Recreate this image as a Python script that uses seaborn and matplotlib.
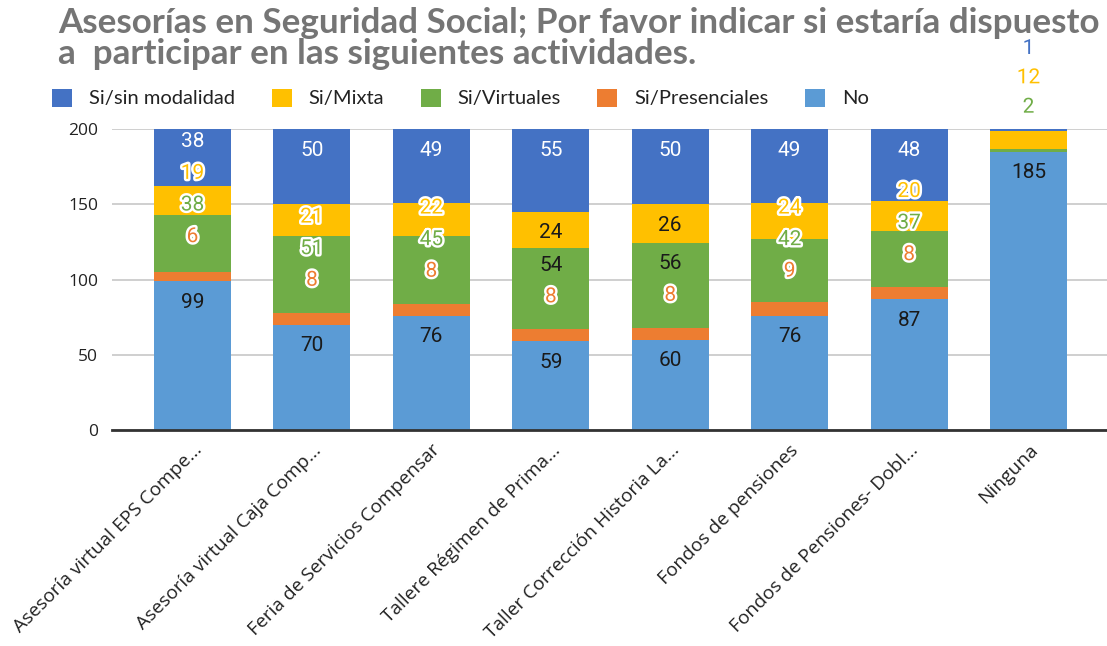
import matplotlib
matplotlib.use("Agg")
import matplotlib.pyplot as plt
import matplotlib.patheffects as pe
from matplotlib.patches import Patch
import seaborn as sns
import pandas as pd
import numpy as np

# ---------------- data ----------------
categories = [
    "Asesoría virtual EPS Compe...",
    "Asesoría virtual Caja Comp...",
    "Feria de Servicios Compensar",
    "Tallere Régimen de Prima...",
    "Taller Corrección Historia La...",
    "Fondos de pensiones",
    "Fondos de Pensiones- Dobl...",
    "Ninguna",
]
no_vals = [99, 70, 76, 59, 60, 76, 87, 185]
presenciales = [6, 8, 8, 8, 8, 9, 8, 0]
virtuales = [38, 51, 45, 54, 56, 42, 37, 2]
mixta = [19, 21, 22, 24, 26, 24, 20, 12]
sin_modalidad = [38, 50, 49, 55, 50, 49, 48, 1]

series_names = ["No", "Si/Presenciales", "Si/Virtuales", "Si/Mixta", "Si/sin modalidad"]  # bottom -> top
series_values = [no_vals, presenciales, virtuales, mixta, sin_modalidad]
legend_order = ["Si/sin modalidad", "Si/Mixta", "Si/Virtuales", "Si/Presenciales", "No"]
y_ticks = [0, 50, 100, 150, 200]

title_line1 = "Asesorías en Seguridad Social; Por favor indicar si estaría dispuesto"
title_line2 = "a  participar en las siguientes actividades."

colors = {
    "No": "#5B9BD5",
    "Si/Presenciales": "#ED7D31",
    "Si/Virtuales": "#70AD47",
    "Si/Mixta": "#FFC000",
    "Si/sin modalidad": "#4472C4",
}
inside_text = {
    "No": "#1a1a1a",
    "Si/Presenciales": "#ffffff",
    "Si/Virtuales": "#1a1a1a",
    "Si/Mixta": "#1a1a1a",
    "Si/sin modalidad": "#ffffff",
}

rows = []
for ci, cat in enumerate(categories):
    cum = 0
    for s, vals in zip(series_names, series_values):
        v = vals[ci]
        rows.append({"category": cat, "series": s, "value": v, "bottom": cum, "top": cum + v})
        cum += v
df = pd.DataFrame(rows)

# ---------------- figure ----------------
sns.set_theme(style="white")
plt.rcParams["font.family"] = ["Lato", "DejaVu Sans"]

W, H = 1107, 646
fig = plt.figure(figsize=(W / 100, H / 100), dpi=100)
ax = fig.add_axes([112 / W, (H - 430) / H, 1 - 112 / W, (430 - 129) / H])

ymax = 200
for s in reversed(series_names):
    sub = df[df["series"] == s]
    sns.barplot(data=sub, x="category", y="top", order=categories, color=colors[s],
                saturation=1, width=0.645, errorbar=None, ax=ax, linewidth=0, zorder=2)

ax.set_xlim(-0.674, 7.657)
ax.set_ylim(0, ymax)
ax.set_yticks(y_ticks)
ax.set_xlabel("")
ax.set_ylabel("")
ax.yaxis.grid(True, color="#cccccc", linewidth=1.3, zorder=0)
ax.set_axisbelow(True)
for sp in ["top", "right", "left"]:
    ax.spines[sp].set_visible(False)
ax.spines["bottom"].set_color("#333333")
ax.spines["bottom"].set_linewidth(2)
ax.spines["bottom"].set_zorder(5)

ax.tick_params(axis="y", length=0, pad=10, labelsize=12.5, labelcolor="#222222")
ax.tick_params(axis="x", length=0, pad=8, labelsize=13.8, labelcolor="#222222")
for lab in ax.get_yticklabels():
    lab.set_family(["Open Sans", "DejaVu Sans"])
for lab in ax.get_xticklabels():
    lab.set_family(["Open Sans", "DejaVu Sans"])
    lab.set_rotation(45)
    lab.set_ha("right")
    lab.set_va("top")
    lab.set_rotation_mode("anchor")

# ---------------- data labels ----------------
label_drop = 14.0   # label sits this far below the segment top (data units)
gap = 21.0          # minimal distance between stacked labels
first_jump = 43.5   # jump when colliding with the bottom label
gap_out = 19.5      # spacing used above the plot area
jump_out = 40.0
half_h = 9.0
for ci, cat in enumerate(categories):
    sub = df[df["category"] == cat]
    prev = None
    count = 0
    for k, (_, r) in enumerate(sub.iterrows()):
        if r["value"] <= 0:
            continue
        natural = min(r["top"], ymax) - label_drop
        outside = prev is not None and prev + gap > ymax
        g = gap_out if outside else gap
        j = jump_out if outside else first_jump
        if prev is None:
            pos = natural
        elif count == 1 and natural < prev + g:
            pos = prev + j
        else:
            pos = max(natural, prev + g)
        is_top = (k == len(sub) - 1)
        upper_ok = (pos <= ymax) if is_top else (pos + half_h <= r["top"])
        inside = (pos - half_h >= r["bottom"]) and upper_ok
        s = r["series"]
        if inside:
            ax.text(ci, pos, f"{int(r['value'])}", ha="center", va="center",
                    fontsize=15, family=["Roboto", "DejaVu Sans"],
                    color=inside_text[s], zorder=6, clip_on=False)
        else:
            ax.text(ci, pos, f"{int(r['value'])}", ha="center", va="center",
                    fontsize=15, family=["Roboto", "DejaVu Sans"],
                    color=colors[s], zorder=6, clip_on=False,
                    path_effects=[pe.withStroke(linewidth=3.5, foreground="white")])
        prev = pos
        count += 1

# ---------------- legend ----------------
handles = [Patch(facecolor=colors[s], edgecolor="none", label=s) for s in legend_order]
fig.legend(handles=handles, loc="center left", bbox_to_anchor=(52 / W, 1 - 98 / H),
           ncol=5, frameon=False, fontsize=14.5, handlelength=1.0, handleheight=1.0,
           handletextpad=0.85, columnspacing=1.8, borderaxespad=0, borderpad=0,
           labelcolor="#222222")

# ---------------- title ----------------
fig.canvas.draw()
renderer = fig.canvas.get_renderer()
t1 = fig.text(58 / W, 1 - 33 / H, title_line1, ha="left", va="baseline",
              fontsize=22, fontweight="bold", color="#757575", family=["Lato", "DejaVu Sans"])
w = t1.get_window_extent(renderer).width
fs = 22 * 1042 / w
t1.set_fontsize(fs)
fig.text(58 / W, 1 - 64 / H, title_line2, ha="left", va="baseline",
         fontsize=fs, fontweight="bold", color="#757575", family=["Lato", "DejaVu Sans"])

fig.savefig("out.png", dpi=100)
